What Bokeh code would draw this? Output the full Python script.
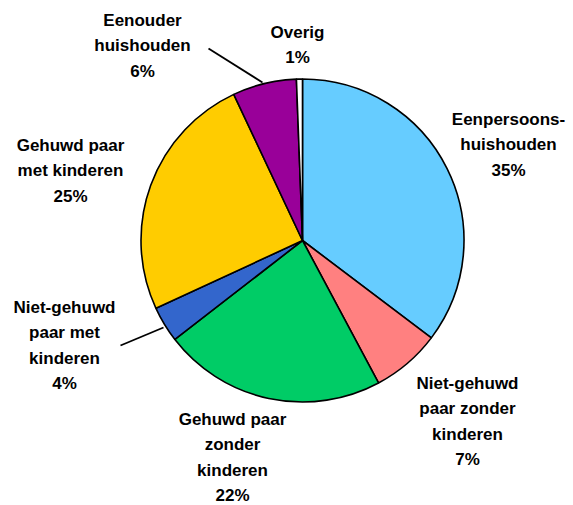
import math
from bokeh.plotting import figure
from bokeh.models import Range1d, ColumnDataSource
from bokeh.core.properties import value
from bokeh.embed import file_html
from bokeh.resources import INLINE

# data
categories = ["Eenpersoonshuishouden", "Niet-gehuwd paar zonder kinderen",
              "Gehuwd paar zonder kinderen", "Niet-gehuwd paar met kinderen",
              "Gehuwd paar met kinderen", "Eenouder huishouden", "Overig"]
shares = [35.3, 6.9, 22.3, 3.6, 24.9, 6.4, 0.6]
colors = ["#66CCFF", "#FF8080", "#00CC66", "#3366CC", "#FFCC00", "#990099", "#FFFFFF"]
label_texts = ["Eenpersoons-\nhuishouden\n35%",
               "Niet-gehuwd\npaar zonder\nkinderen\n7%",
               "Gehuwd paar\nzonder\nkinderen\n22%",
               "Niet-gehuwd\npaar met\nkinderen\n4%",
               "Gehuwd paar\nmet kinderen\n25%",
               "Eenouder\nhuishouden\n6%",
               "Overig\n1%"]

W, H = 573, 505
def Y(py):
    return H - py

# layout (image pixel coords)
cx, cy, r = 302, 240, 161.5
label_pos = [(508, 119), (467, 383), (232, 419), (64, 307), (70, 145), (142, 20), (297, 32)]
line_gap = 25.3
leaders = [None, None, None, ((120, 345), (163, 327)), None, ((208, 48), (262, 82)), None]

p = figure(width=W, height=H, output_backend="svg", toolbar_location=None,
           x_range=Range1d(0, W), y_range=Range1d(0, H),
           min_border=0)
p.axis.visible = False
p.grid.visible = False
p.outline_line_color = None
p.background_fill_color = "white"

total = sum(shares)
starts, ends = [], []
cum = 0.0
for s in shares:
    a0 = math.pi / 2 - 2 * math.pi * cum / total
    cum += s
    a1 = math.pi / 2 - 2 * math.pi * cum / total
    starts.append(a0)
    ends.append(a1)

src = ColumnDataSource(dict(cat=categories, start=starts, end=ends, color=colors))
p.wedge(x=cx, y=Y(cy), radius=r, radius_units="data", start_angle="start", end_angle="end",
        direction="clock", fill_color="color", line_color="black", line_width=1.6, source=src)

# leader lines
for ld in leaders:
    if ld:
        (x0, y0), (x1, y1) = ld
        p.line([x0, x1], [Y(y0), Y(y1)], line_color="black", line_width=1.8)

# labels
tx, ty, tt = [], [], []
for (lx, ly), t in zip(label_pos, label_texts):
    for i, line in enumerate(t.split("\n")):
        tx.append(lx)
        ty.append(Y(ly + i * line_gap))
        tt.append(line)
p.text(x=tx, y=ty, text=tt, text_align="center", text_baseline="middle",
       text_font=value("Liberation Sans"), text_font_style="bold",
       text_font_size="17px", text_color="black")

open("out.html", "w").write(file_html(p, INLINE))
